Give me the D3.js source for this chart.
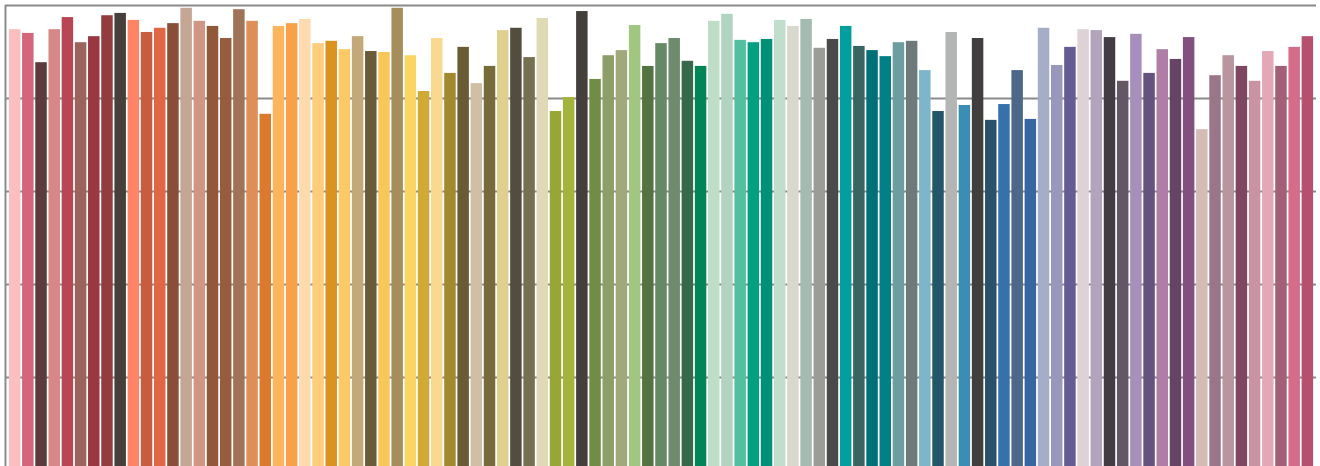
<!DOCTYPE html>
<html>
<head>
<meta charset="utf-8">
<script src="https://cdn.jsdelivr.net/npm/d3@7"></script>
<style>
  html, body { margin: 0; padding: 0; background: #ffffff; }
  svg { display: block; }
</style>
</head>
<body>
<svg id="chart" width="1320" height="466"></svg>
<script>
const categories = d3.range(1, 100).map(i => "Item " + i);

const values = [
  94.8, 94.0, 87.7, 94.8, 97.4, 92.0, 93.3, 97.8, 98.3, 96.8,
  94.2, 95.1, 96.1, 99.4, 96.6, 95.5, 92.9, 99.1, 96.6, 76.6,
  95.5, 96.1, 97.0, 91.8, 92.3, 90.5, 93.3, 90.1, 89.9, 99.4,
  89.2, 81.5, 92.9, 85.4, 91.0, 83.2, 86.9, 94.6, 95.1, 88.8,
  97.2, 77.2, 80.2, 98.7, 84.1, 89.2, 90.3, 95.7, 86.9, 91.8,
  92.9, 88.0, 86.9, 96.6, 98.1, 92.5, 92.0, 92.7, 96.8, 95.5,
  97.0, 90.8, 92.7, 95.5, 91.2, 90.3, 89.0, 92.0, 92.3, 86.0,
  77.2, 94.2, 78.5, 92.9, 75.3, 78.7, 86.0, 75.5, 95.1, 87.1,
  91.0, 94.8, 94.6, 93.1, 83.7, 93.8, 85.4, 90.5, 88.4, 93.1,
  73.3, 84.9, 89.2, 86.9, 83.7, 90.1, 86.9, 91.0, 93.3
];

const barColors = [
  "#fbbfc2", "#d4667c", "#5c3b3c", "#d68886", "#b84655", "#9c625c", "#9a3740", "#923c40", "#463f3c", "#ff8466",
  "#c95b40", "#e06645", "#884e38", "#c5a594", "#d19683", "#92583a", "#955c3e", "#a07358", "#de8e58", "#db7a2d",
  "#fdb55d", "#f9a04a", "#fddbaf", "#fdcd7d", "#da9320", "#fdc964", "#c3a87a", "#6b5a37", "#f8c75c", "#a68e5c",
  "#fbd563", "#d1aa35", "#f8d98f", "#a2882f", "#6b5b35", "#d0bfa5", "#776b39", "#e0d08f", "#524d3e", "#757150",
  "#e0d9b6", "#98a636", "#a2b43b", "#433f3b", "#718c45", "#8e9e68", "#a0a87c", "#a0c67f", "#537343", "#658866",
  "#6f8b6d", "#376849", "#028556", "#c0ddc8", "#b0d4c0", "#52c0a0", "#00a080", "#008f77", "#c1ddcc", "#d8d8cc",
  "#a3bbb0", "#9b9c96", "#4b4a48", "#009f9d", "#386462", "#007078", "#007f86", "#6c9da0", "#6e797c", "#7eb5cb",
  "#245669", "#b3b5b4", "#3a8db3", "#403f3d", "#2b506a", "#3771ab", "#4d6788", "#3866a0", "#a6adc6", "#9a97bd",
  "#645c92", "#ddd3d6", "#b3a4bc", "#433c42", "#635766", "#a68fbc", "#66527e", "#b07da7", "#674465", "#82507e",
  "#d4bcb4", "#9b7688", "#b8959f", "#7d4661", "#c993a3", "#e3a8b5", "#a35f76", "#d56c89", "#b5516f"
];

const gridTicks = [20, 40, 60, 80, 100];

const svg = d3.select("#chart");

const x = d3.scaleBand()
  .domain(categories)
  .range([6, 1316])
  .paddingInner(0.13)
  .paddingOuter(0.22);

const y = d3.scaleLinear()
  .domain([0, 100])
  .range([470, 5]);

// gridlines
const grid = svg.append("g").attr("class", "grid");
grid.selectAll("line.shadow")
  .data(gridTicks)
  .join("line")
  .attr("class", "shadow")
  .attr("x1", 5).attr("x2", 1316)
  .attr("y1", d => y(d) - 0.5).attr("y2", d => y(d) - 0.5)
  .attr("stroke", "#d8d8d8")
  .attr("stroke-width", 1);
grid.selectAll("line.main")
  .data(gridTicks)
  .join("line")
  .attr("class", "main")
  .attr("x1", 5).attr("x2", 1316)
  .attr("y1", d => y(d) + 0.6).attr("y2", d => y(d) + 0.6)
  .attr("stroke", "#8a8a8a")
  .attr("stroke-width", 1.7);

// left axis line
svg.append("line")
  .attr("x1", 4.5).attr("x2", 4.5)
  .attr("y1", y(100)).attr("y2", y(0))
  .attr("stroke", "#d8d8d8").attr("stroke-width", 1);
svg.append("line")
  .attr("x1", 5.6).attr("x2", 5.6)
  .attr("y1", y(100)).attr("y2", y(0))
  .attr("stroke", "#8a8a8a").attr("stroke-width", 1.7);

// bars
svg.append("g")
  .selectAll("rect")
  .data(categories.map((c, i) => ({ c, v: values[i], color: barColors[i] })))
  .join("rect")
  .attr("x", d => x(d.c))
  .attr("y", d => y(d.v))
  .attr("width", x.bandwidth())
  .attr("height", d => y(0) - y(d.v))
  .attr("fill", d => d.color);
</script>
</body>
</html>
